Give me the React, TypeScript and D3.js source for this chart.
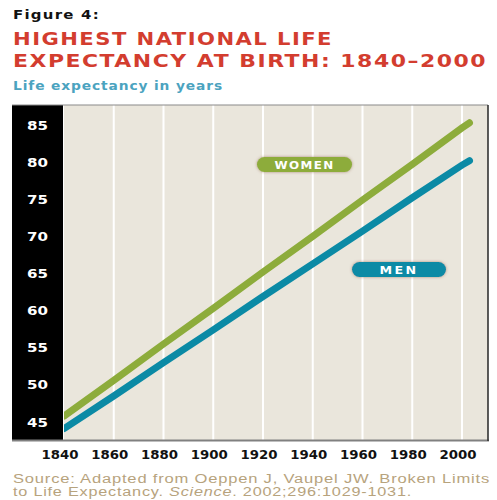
import React from "react";
import * as d3 from "d3";

const years = [1840, 1860, 1880, 1900, 1920, 1940, 1960, 1980, 2000, 2003];
const women = [45.8, 50.6, 55.5, 60.3, 65.2, 70.0, 74.9, 79.7, 84.6, 85.3];
const men = [44.1, 48.5, 53.0, 57.4, 61.9, 66.3, 70.7, 75.2, 79.6, 80.2];
const xTicks = [1840, 1860, 1880, 1900, 1920, 1940, 1960, 1980, 2000];
const yTicks = [45, 50, 55, 60, 65, 70, 75, 80, 85];

const PL = 64, PR = 488, PT = 105, PB = 440;
const BLACK_L = 12;

export default function App() {
  const x = d3.scaleLinear().domain([1840, 2000]).range([PL, 462]);
  const y = d3.scaleLinear().domain([45, 85]).range([422, 125]);
  const line = d3
    .line<number>()
    .x((_, i) => x(years[i]))
    .y((d) => y(d));
  const heavy = "'DejaVu Sans', Verdana, sans-serif";
  const font = "'Liberation Sans', Arial, sans-serif";
  const green = "#8dac3b";
  const blue = "#0b8aa5";
  return (
    <svg
      width={497}
      height={500}
      style={{ position: "absolute", left: 0, top: 0, background: "#fff" }}
      fontFamily={font}
    >
      <defs>
        <clipPath id="plotclip">
          <rect x={PL} y={PT} width={PR - PL} height={PB - PT} />
        </clipPath>
        <filter id="glow" x="-20%" y="-50%" width="140%" height="200%">
          <feDropShadow dx="0" dy="0" stdDeviation="1.6" floodColor="#7a4a30" floodOpacity="0.55" />
        </filter>
      </defs>
      {/* Titles */}
      <text x={13} y={19} fontFamily={heavy} fontSize={12} fontWeight="bold" fill="#111" letterSpacing={1} textLength={87} lengthAdjust="spacingAndGlyphs">
        Figure 4:
      </text>
      <text x={13} y={45} fontFamily={heavy} fontSize={17.5} fontWeight="bold" fill="#d33d2f" letterSpacing={1.2} textLength={320} lengthAdjust="spacingAndGlyphs">
        HIGHEST NATIONAL LIFE
      </text>
      <text x={13} y={67} fontFamily={heavy} fontSize={17.5} fontWeight="bold" fill="#d33d2f" letterSpacing={1.2} textLength={474} lengthAdjust="spacingAndGlyphs">
        EXPECTANCY AT BIRTH: 1840–2000
      </text>
      <text x={13} y={90} fontFamily={heavy} fontSize={12.5} fontWeight="bold" fill="#4ba3bf" letterSpacing={0.8} textLength={210} lengthAdjust="spacingAndGlyphs">
        Life expectancy in years
      </text>

      {/* Plot background */}
      <rect x={PL} y={PT} width={PR - PL} height={PB - PT} fill="#eae6dc" />
      {/* Black y-axis panel */}
      <rect x={BLACK_L} y={PT} width={PL - BLACK_L - 1} height={PB - PT + 1} fill="#000" />
      {/* Gridlines */}
      {xTicks.slice(1).map((t) => (
        <line key={t} x1={x(t)} x2={x(t)} y1={PT} y2={PB} stroke="#fff" strokeWidth={2} />
      ))}
      {/* Borders */}
      <line x1={BLACK_L} x2={PR} y1={PT} y2={PT} stroke="#8a8a8a" strokeWidth={1.2} />
      <line x1={BLACK_L} x2={PR + 1} y1={PB + 0.5} y2={PB + 0.5} stroke="#808080" strokeWidth={2} />
      <line x1={PR} x2={PR} y1={PT} y2={PB + 1} stroke="#333" strokeWidth={1.6} />

      {/* Y tick labels */}
      {yTicks.map((t) => (
        <text key={t} x={37.5} y={y(t) + 4.5} fontFamily={heavy} fontSize={12.5} fontWeight="bold" fill="#fff" textAnchor="middle" textLength={21} lengthAdjust="spacingAndGlyphs">
          {t}
        </text>
      ))}
      {/* X tick labels */}
      {xTicks.map((t) => (
        <text key={t} x={x(t) - 4} y={459} fontFamily={heavy} fontSize={12} fontWeight="bold" fill="#111" textAnchor="middle" textLength={37} lengthAdjust="spacingAndGlyphs">
          {t}
        </text>
      ))}

      {/* Lines */}
      <g clipPath="url(#plotclip)">
        <path d={line(women) || ""} fill="none" stroke={green} strokeWidth={7} strokeLinecap="round" />
        <path d={line(men) || ""} fill="none" stroke={blue} strokeWidth={7} strokeLinecap="round" />
      </g>

      {/* Labels */}
      <g filter="url(#glow)">
        <rect x={257} y={157} width={95} height={15} rx={7.5} fill={green} />
        <rect x={352} y={262} width={94} height={15} rx={7.5} fill={blue} />
      </g>
      <text x={304.5} y={168.8} fontFamily={heavy} fontSize={10.5} fontWeight="bold" fill="#fff" textAnchor="middle" letterSpacing={1.2} textLength={60} lengthAdjust="spacingAndGlyphs">
        WOMEN
      </text>
      <text x={399} y={273.8} fontFamily={heavy} fontSize={10.5} fontWeight="bold" fill="#fff" textAnchor="middle" letterSpacing={2} textLength={39} lengthAdjust="spacingAndGlyphs">
        MEN
      </text>

      {/* Source */}
      <text x={13} y={483} fontSize={12.5} fill="#b7a37d" letterSpacing={0.6} textLength={477} lengthAdjust="spacingAndGlyphs">
        Source: Adapted from Oeppen J, Vaupel JW. Broken Limits
      </text>
      <text x={13} y={496} fontSize={12.5} fill="#b7a37d" letterSpacing={0.6} textLength={399} lengthAdjust="spacingAndGlyphs">
        to Life Expectancy. <tspan fontStyle="italic">Science</tspan>. 2002;296:1029-1031.
      </text>
    </svg>
  );
}
